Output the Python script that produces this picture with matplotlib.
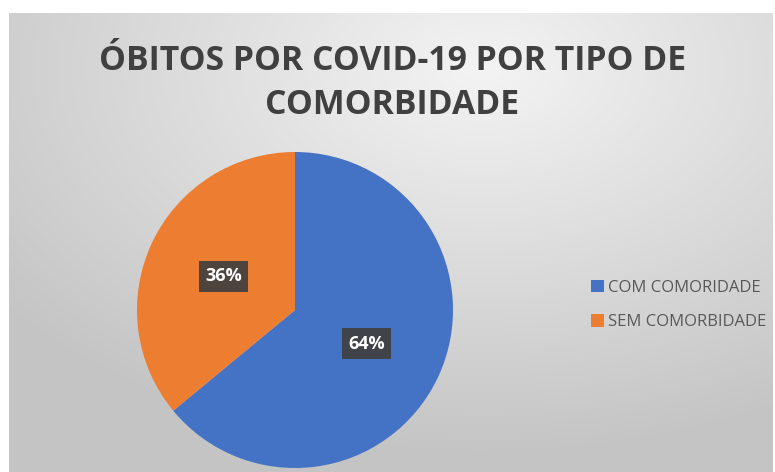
import numpy as np
import matplotlib.pyplot as plt
from matplotlib.patches import Patch

labels = ['COM COMORIDADE', 'SEM COMORBIDADE']
values = [64, 36]
colors = ['#4472C4', '#ED7D31']
title = 'ÓBITOS POR COVID-19 POR TIPO DE\nCOMORBIDADE'

plt.rcParams['font.family'] = ['Open Sans', 'DejaVu Sans']

W, H = 775, 472
fig = plt.figure(figsize=(W / 100, H / 100), dpi=100)
fig.patch.set_facecolor('white')

# fundo com gradiente radial
x0, y0, x1, y1 = 9, 13, 773, 472
bg = fig.add_axes([x0 / W, 0, (x1 - x0) / W, (y1 - y0) / H])
yy, xx = np.mgrid[0:1:300j, 0:1:500j]
d = np.sqrt(((xx - 0.62) / 1.0) ** 2 + ((yy - 0.12) / 1.05) ** 2)
g = np.clip(0.955 - 0.23 * d, 0.77, 0.96)
bg.imshow(np.dstack([g, g, g]), aspect='auto', extent=[0, 1, 1, 0])
bg.set_axis_off()

fig.text(0.506, 1 - 83 / H, title, ha='center', va='center', fontsize=24.3,
         fontweight='bold', color='#404040', linespacing=1.36)

cx, cy, r = 295, 310, 158
ax = fig.add_axes([(cx - r) / W, (H - cy - r) / H, 2 * r / W, 2 * r / H])
wedges, texts, autotexts = ax.pie(values, colors=colors, startangle=90,
                                  counterclock=False, autopct='%1.0f%%',
                                  pctdistance=0.5,
                                  textprops=dict(color='white', fontsize=13,
                                                 fontweight='bold'))
for t in autotexts:
    t.set_bbox(dict(boxstyle='square,pad=0.35', facecolor='#404040',
                    edgecolor='none', alpha=0.92))
ax.set_xlim(-1, 1)
ax.set_ylim(-1, 1)
ax.set_aspect('equal')

handles = [Patch(facecolor=c, edgecolor='none') for c in colors]
fig.legend(handles, labels, loc='center left',
           bbox_to_anchor=(576 / W, 1 - 305 / H), frameon=False,
           fontsize=12, labelcolor='#595959', handlelength=0.8,
           handleheight=0.8, handletextpad=0.25, labelspacing=1.1)

fig.savefig('out.png', dpi=100)
